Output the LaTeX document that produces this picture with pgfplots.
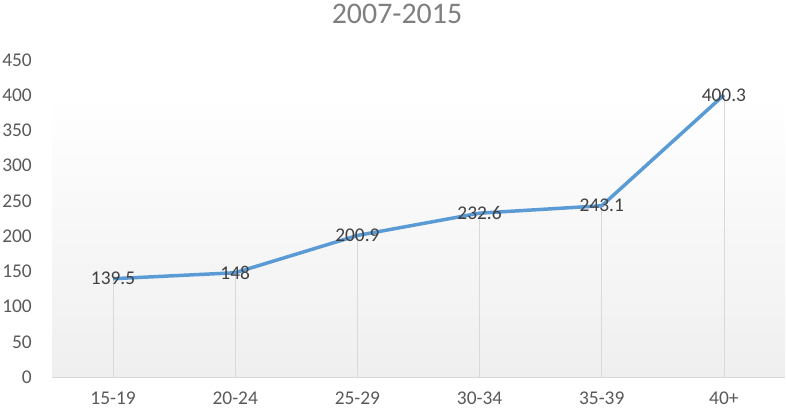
\documentclass[border=0pt]{standalone}
\usepackage{pgfplots}
\pgfplotsset{compat=1.18}
\usepackage{fontspec}
\setmainfont{Carlito}
\definecolor{linebl}{HTML}{5B9BD5}
\definecolor{tickgray}{HTML}{595959}
\definecolor{labgray}{HTML}{404040}
\definecolor{titlegray}{HTML}{7F7F7F}
\definecolor{gridgray}{HTML}{D9D9D9}
\definecolor{bgbot}{HTML}{EFEFEF}

\pgfplotstableread{
idx value
0 139.5
1 148
2 200.9
3 232.6
4 243.1
5 400.3
}\rates

\begin{document}
\begin{tikzpicture}
\path[use as bounding box] (0,0) rectangle (787bp,413bp);
\shade[top color=white, bottom color=bgbot] (52bp,36bp) rectangle (785bp,318bp);
\node[font=\fontsize{30}{32}\selectfont, text=titlegray, anchor=center] at (397bp,399bp) {2007-2015};
\begin{axis}[
    at={(52bp,36bp)}, anchor=south west,
    scale only axis,
    width=733bp, height=317bp,
    xmin=-0.5, xmax=5.5,
    ymin=0, ymax=450,
    ytick={0,50,...,450},
    xtick=data,
    xticklabels={15-19,20-24,25-29,30-34,35-39,40+},
    axis x line*=bottom,
    axis y line*=left,
    x axis line style={gridgray, line width=1pt, -},
    y axis line style={draw=none},
    major tick length=0pt,
    tick style={draw=none},
    ticklabel style={font=\fontsize{19.5}{21}\selectfont, text=tickgray},
    /pgf/number format/assume math mode=true,
    yticklabel style={anchor=east, inner sep=0pt, xshift=-20bp},
    xticklabel style={anchor=north, inner sep=0pt, yshift=-15bp},
    clip=false,
]
\addplot[ycomb, gridgray, line width=0.8pt, forget plot] table[x=idx, y=value] {\rates};
\addplot[linebl, line width=3.5pt, line join=round, mark=none,
    nodes near coords,
    nodes near coords style={anchor=center, font=\fontsize{19.5}{21}\selectfont, text=labgray, inner sep=0pt},
    point meta=explicit symbolic]
    table[x=idx, y=value, meta=value] {\rates};
\end{axis}
\end{tikzpicture}
\end{document}
